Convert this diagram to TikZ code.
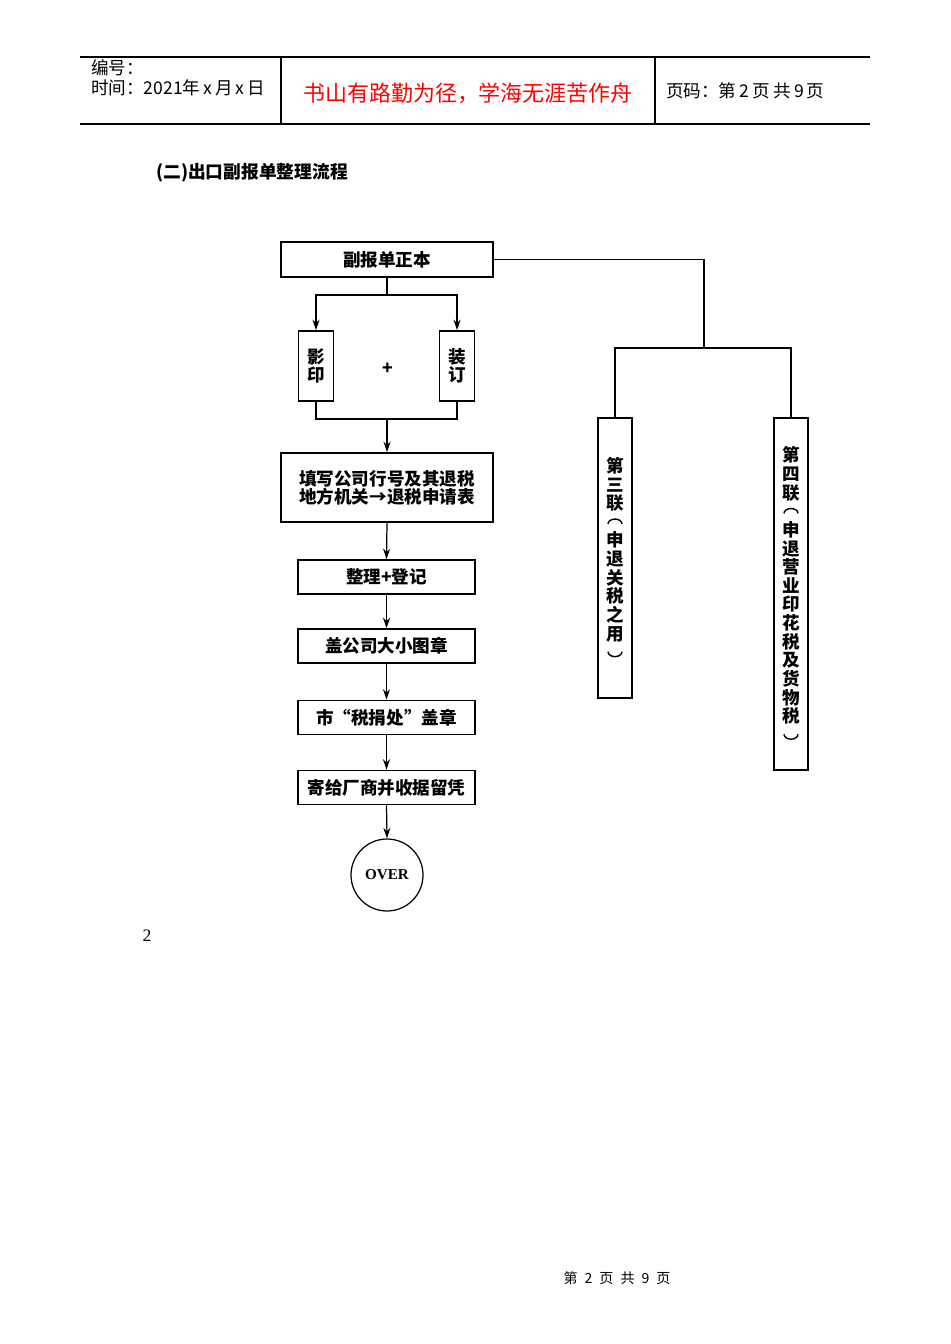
\documentclass[tikz,border=0pt]{standalone}
\usepackage{fontspec}
\setmainfont{Liberation Serif}
\newfontfamily\cjk{Noto Sans CJK SC}
\usetikzlibrary{arrows.meta}
\newcommand{\vopen}{\tikz[baseline=-2.5pt]\draw[line width=0.8pt]
  (-4pt,0pt) arc[start angle=180,end angle=0,x radius=4pt,y radius=2.8pt];}
\newcommand{\vclose}{\tikz[baseline=0pt]\draw[line width=0.8pt]
  (-4pt,4pt) arc[start angle=180,end angle=360,x radius=4pt,y radius=2.8pt];}

\begin{document}
\begin{tikzpicture}[
  x=0.02cm, y=-0.02cm,
  >={Stealth[length=6pt,width=4pt]},
  font=\cjk\bfseries\fontsize{10}{10.2}\selectfont,
  block/.style={draw,line width=0.9pt,inner sep=0pt,align=center},
  head/.style={anchor=west,font=\cjk\fontsize{10}{11}\selectfont},
  flow/.style={->,line width=0.7pt},
  link/.style={line width=0.7pt}
]
  \useasboundingbox (0,0) rectangle (950,1344);

  % page header
  \draw[line width=0.6pt] (80,57) -- (870,57) (80,124) -- (870,124)
    (281,57) -- (281,124) (655,57) -- (655,124);
  \node[head] (num) at (85,68) {编号：};
  \node[head] (date) at (85,88) {时间：2021年\,x\,月\,x\,日};
  \node[font=\cjk\fontsize{12.5}{14}\selectfont,text=red] (motto) at (468,93)
    {书山有路勤为径，学海无涯苦作舟};
  \node[head] (page) at (660,91) {页码：第\,2\,页\ 共\,9\,页};

  \node[anchor=west,font=\cjk\bfseries\fontsize{10.1}{11}\selectfont] (title)
    at (150,173) {(二)出口副报单整理流程};

  % main column
  \node[block,minimum width=4.24cm,minimum height=0.7cm] (main) at (387,259.5)
    {副报单正本};
  \node[block,minimum width=0.7cm,minimum height=1.4cm] (copy) at (316,366)
    {影\\印};
  \node[block,minimum width=0.7cm,minimum height=1.4cm] (bind) at (457,366)
    {装\\订};
  \node (plus) at (388,369) {+};
  \node[block,minimum width=4.24cm,minimum height=1.38cm] (fill) at (387,487.5)
    {填写公司行号及其退税\\地方机关→退税申请表};
  \node[block,minimum width=3.54cm,minimum height=0.68cm] (sort) at (386.5,577)
    {整理+登记};
  \node[block,minimum width=3.54cm,minimum height=0.68cm] (seal) at (386.5,646)
    {盖公司大小图章};
  \node[block,minimum width=3.54cm,minimum height=0.68cm] (stamp) at (386.5,717.5)
    {市“税捐处”盖章};
  \node[block,minimum width=3.54cm,minimum height=0.68cm] (mail) at (386.5,787.5)
    {寄给厂商并收据留凭};
  \node[draw,circle,line width=0.7pt,minimum size=1.44cm,inner sep=0pt,
    font=\rmfamily\bfseries\fontsize{8.6}{9}\selectfont] (over) at (387,875) {OVER};

  % copies branch
  \node[block,minimum width=0.68cm,minimum height=5.6cm,
    font=\cjk\bfseries\fontsize{10}{10.6}\selectfont] (third) at (615,558)
    {第\\三\\联\\\vopen\\申\\退\\关\\税\\之\\用\\\vclose};
  \node[block,minimum width=0.68cm,minimum height=7.04cm,
    font=\cjk\bfseries\fontsize{10}{10.6}\selectfont] (fourth) at (791,594)
    {第\\四\\联\\\vopen\\申\\退\\营\\业\\印\\花\\税\\及\\货\\物\\税\\\vclose};

  \coordinate (split) at (387,295);
  \coordinate (merge) at (387,419);
  \coordinate (fork) at (704,348);
  \draw[link] (main.south) -- (split);
  \draw[flow] (split) -| (copy.north);
  \draw[flow] (split) -| (bind.north);
  \draw[link] (copy.south) |- (merge);
  \draw[link] (bind.south) |- (merge);
  \draw[flow] (merge) -- (fill.north);
  \draw[flow] (fill.south) -- (sort.north);
  \draw[flow] (sort.south) -- (seal.north);
  \draw[flow] (seal.south) -- (stamp.north);
  \draw[flow] (stamp.south) -- (mail.north);
  \draw[flow] (mail.south) -- (over.north);
  \draw[link] (main.east) -| (fork);
  \draw[link] (fork) -| (third.north);
  \draw[link] (fork) -| (fourth.north);

  % page numbers
  \node[font=\rmfamily\fontsize{10}{12}\selectfont] (mark) at (147,936) {2};
  \node[font=\cjk\fontsize{8}{9}\selectfont] (foot) at (617,1278)
    {第\hspace{4pt}2\hspace{4pt}页\hspace{4pt}共\hspace{4pt}9\hspace{4pt}页};
\end{tikzpicture}
\end{document}
